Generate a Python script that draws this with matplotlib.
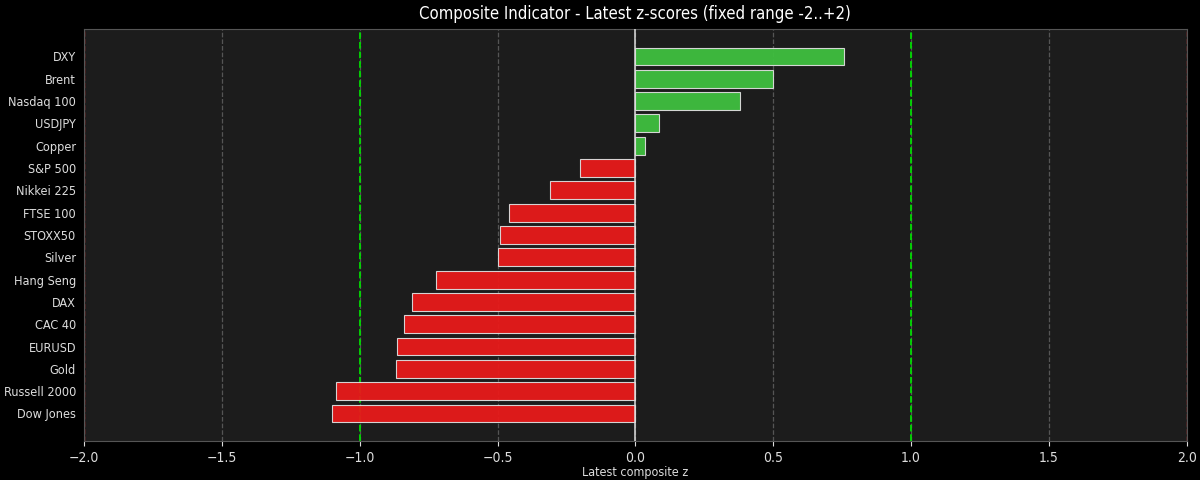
import numpy as np
import matplotlib
matplotlib.use("Agg")
import matplotlib.pyplot as plt

plt.rcParams['font.family'] = ['DejaVu Sans']
plt.rcParams['font.stretch'] = 'condensed'

# latest composite z-scores, bottom to top
names = ["Dow Jones", "Russell 2000", "Gold", "EURUSD", "CAC 40", "DAX",
         "Hang Seng", "Silver", "STOXX50", "FTSE 100", "Nikkei 225",
         "S&P 500", "Copper", "USDJPY", "Nasdaq 100", "Brent", "DXY"]
zscores = [-1.10, -1.085, -0.87, -0.865, -0.84, -0.81,
           -0.725, -0.50, -0.49, -0.46, -0.31,
           -0.20, 0.035, 0.087, 0.38, 0.50, 0.755]

x_min, x_max = -2, 2
band = [-1, 1]

fig, ax = plt.subplots(figsize=(12, 4.8), dpi=100)
fig.patch.set_facecolor("black")
ax.set_facecolor("#1c1c1c")

colors = ["#3fbf3f" if v >= 0 else "#e81a1a" for v in zscores]
ypos = np.arange(len(names))
ax.barh(ypos, zscores, height=0.8, color=colors, edgecolor="#dddddd",
        linewidth=0.8, alpha=0.95, zorder=3)

ax.axvline(0, color="#dddddd", linewidth=1.1, zorder=4)
for b in band:
    ax.axvline(b, color="#00dd00", linestyle="--", linewidth=1.3, zorder=2)
for b in (x_min, x_max):
    ax.axvline(b, color="#cc2222", linestyle="--", linewidth=1.0, zorder=1)

ax.set_xlim(x_min, x_max)
ax.set_yticks(ypos)
ax.set_yticklabels(names)
ax.set_xticks(np.arange(-2, 2.01, 0.5))
ax.grid(axis="x", color="#555555", linestyle="--", linewidth=0.9, zorder=0)
ax.set_axisbelow(True)

ax.tick_params(colors="#dddddd")
ax.tick_params(axis="x", labelsize=10)
ax.tick_params(axis="y", length=0, labelsize=9.1, pad=5.8)
for s in ax.spines.values():
    s.set_color("#555555")

ax.set_title("Composite Indicator - Latest z-scores (fixed range -2..+2)",
             color="white", fontsize=12, pad=7)
ax.set_xlabel("Latest composite z", color="#dddddd", fontsize=9, labelpad=1)

plt.subplots_adjust(left=0.07, right=0.989, top=0.94, bottom=0.081)
plt.savefig("out.png", facecolor=fig.get_facecolor())
